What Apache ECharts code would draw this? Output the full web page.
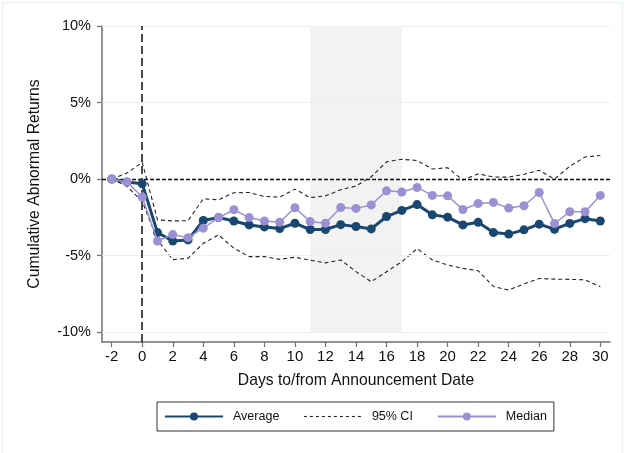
<!DOCTYPE html>
<html>
<head>
<meta charset="utf-8">
<script src="https://cdn.jsdelivr.net/npm/echarts@6/dist/echarts.min.js"></script>
<style>
  html, body { margin: 0; padding: 0; background: #fff; }
  #chart-box { width: 626px; height: 453px; }
</style>
</head>
<body>
<div id="chart-box"></div>
<script>
// event window, days relative to announcement
const days = [-2, -1, 0, 1, 2, 3, 4, 5, 6, 7, 8, 9, 10, 11, 12, 13, 14, 15, 16, 17, 18, 19, 20, 21, 22, 23, 24, 25, 26, 27, 28, 29, 30]
// cumulative abnormal returns, in %
const avgCar = [0, -0.2, -0.31, -3.5, -4.05, -3.98, -2.71, -2.52, -2.74, -3.0, -3.13, -3.24, -2.89, -3.3, -3.3, -2.98, -3.1,
  -3.26, -2.45, -2.05, -1.67, -2.34, -2.49, -3.0, -2.83, -3.5, -3.6, -3.32, -2.95, -3.28, -2.9, -2.59, -2.74]
const medianCar = [0, -0.2, -1.18, -4.05, -3.63, -3.83, -3.21, -2.52, -2.01, -2.52, -2.74, -2.82, -1.88, -2.78, -2.89, -1.86, -1.92,
  -1.69, -0.77, -0.85, -0.55, -1.07, -1.1, -1.99, -1.6, -1.53, -1.9, -1.75, -0.88, -2.91, -2.14, -2.14, -1.07]
const ciUpper = [0, 0.39, 1.09, -2.67, -2.74, -2.72, -1.29, -1.36, -0.9, -0.88, -1.14, -1.18, -0.66, -1.22, -1.1, -0.7, -0.46,
  0.15, 1.12, 1.29, 1.21, 0.66, 0.74, -0.07, 0.34, 0.13, 0.12, 0.31, 0.57, 0, 0.83, 1.44, 1.54]
const ciLower = [0, -0.48, -1.47, -3.98, -5.27, -5.18, -4.2, -3.65, -4.52, -5.07, -5.07, -5.25, -5.11, -5.31, -5.48, -5.29, -6.05,
  -6.71, -6.06, -5.4, -4.55, -5.29, -5.62, -5.84, -5.99, -7.02, -7.26, -6.85, -6.5, -6.54, -6.56, -6.58, -7.04]
const xTicks = [-2, 0, 2, 4, 6, 8, 10, 12, 14, 16, 18, 20, 22, 24, 26, 28, 30]
const yTicks = [-10, -5, 0, 5, 10]
const shadeFrom = 11
const shadeTo = 17

const font = 'Liberation Sans, Arial, sans-serif'
const navy = '#1a476f'
const lilac = '#9a90d4'
const axisGray = '#6f6f6f'

const pairs = (vals) => days.map((d, i) => [d, vals[i]])

const ciStyle = { color: '#222', width: 1.1, type: [4, 3] }

const options = {
  animation: false,
  backgroundColor: '#fff',
  graphic: [{
    type: 'rect', silent: true, z: -10,
    shape: { x: 2.5, y: 2.5, width: 620, height: 470 },
    style: { fill: null, stroke: '#e6eff1', lineWidth: 1 }
  }],
  grid: { left: 102, right: 16, top: 26, bottom: 111 },
  legend: {
    data: [
      'Average',
      // dashed line only, no marker
      { name: '95% CI', itemStyle: { color: 'rgba(0,0,0,0)', borderWidth: 0 }, lineStyle: { type: [3, 3], width: 1.1, color: '#222' } },
      'Median'
    ],
    left: 157, top: 402,
    padding: [8, 7, 8, 7],
    itemGap: 24, itemWidth: 58, itemHeight: 10,
    borderColor: '#333', borderWidth: 1,
    textStyle: { fontFamily: font, fontSize: 12.5, color: '#111', padding: [0, 0, 0, 5] }
  },
  xAxis: {
    type: 'value',
    min: -2.635, max: 30.635,
    name: 'Days to/from Announcement Date',
    nameLocation: 'middle', nameGap: 31,
    nameTextStyle: { fontFamily: font, fontSize: 15.7, color: '#111' },
    axisLine: { onZero: false, lineStyle: { color: axisGray, width: 1.5 } },
    axisTick: { customValues: xTicks, length: 5, lineStyle: { color: axisGray, width: 1.2 } },
    axisLabel: { customValues: xTicks, margin: 7, fontFamily: font, fontSize: 15, color: '#111' },
    splitLine: { show: false }
  },
  yAxis: {
    type: 'value',
    min: -10.65, max: 10,
    name: 'Cumulative Abnormal Returns',
    nameLocation: 'middle', nameGap: 59,
    nameTextStyle: { fontFamily: font, fontSize: 15.7, color: '#111' },
    axisLine: { show: true, onZero: false, lineStyle: { color: axisGray, width: 1.5 } },
    axisTick: { show: true, customValues: yTicks, length: 5, lineStyle: { color: axisGray, width: 1.2 } },
    axisLabel: { customValues: yTicks, margin: 11, fontFamily: font, fontSize: 14.5, color: '#111', formatter: (v) => v + '%' },
    splitLine: { show: false }
  },
  series: [
    {
      name: 'grid', type: 'line', data: [], z: 1, silent: true,
      markLine: {
        silent: true, symbol: 'none', label: { show: false },
        lineStyle: { color: '#e8f0f2', width: 1.2, type: 'solid' },
        data: yTicks.filter((v) => v !== 0).map((v) => ({ yAxis: v }))
      }
    },
    {
      name: 'band', type: 'line', data: [], z: 2, silent: true,
      markArea: {
        silent: true, itemStyle: { color: '#f2f2f2' },
        data: [[{ xAxis: shadeFrom, yAxis: yTicks[0] }, { xAxis: shadeTo, yAxis: yTicks[yTicks.length - 1] }]]
      }
    },
    {
      name: 'refs', type: 'line', data: [], z: 3, silent: true,
      markLine: {
        silent: true, symbol: 'none', label: { show: false },
        data: [
          { yAxis: 0, lineStyle: { color: '#111', width: 1.3, type: [4, 2] } },
          { xAxis: 0, lineStyle: { color: '#111', width: 1.5, type: [8, 4] } }
        ]
      }
    },
    {
      name: '95% CI', type: 'line', data: pairs(ciUpper), z: 4,
      showSymbol: false, symbol: 'none', color: '#222', lineStyle: ciStyle
    },
    {
      name: '95% CI', type: 'line', data: pairs(ciLower), z: 4,
      showSymbol: false, symbol: 'none', color: '#222', lineStyle: ciStyle
    },
    {
      name: 'Average', type: 'line', data: pairs(avgCar), z: 5,
      symbol: 'circle', symbolSize: 9, color: navy,
      lineStyle: { color: navy, width: 3 }, itemStyle: { color: navy }
    },
    {
      name: 'Median', type: 'line', data: pairs(medianCar), z: 6,
      symbol: 'circle', symbolSize: 9, color: lilac,
      lineStyle: { color: lilac, width: 1.5 }, itemStyle: { color: lilac }
    }
  ]
}

var myChart = echarts.init(document.getElementById('chart-box'))
myChart.setOption(options)
</script>
</body>
</html>
